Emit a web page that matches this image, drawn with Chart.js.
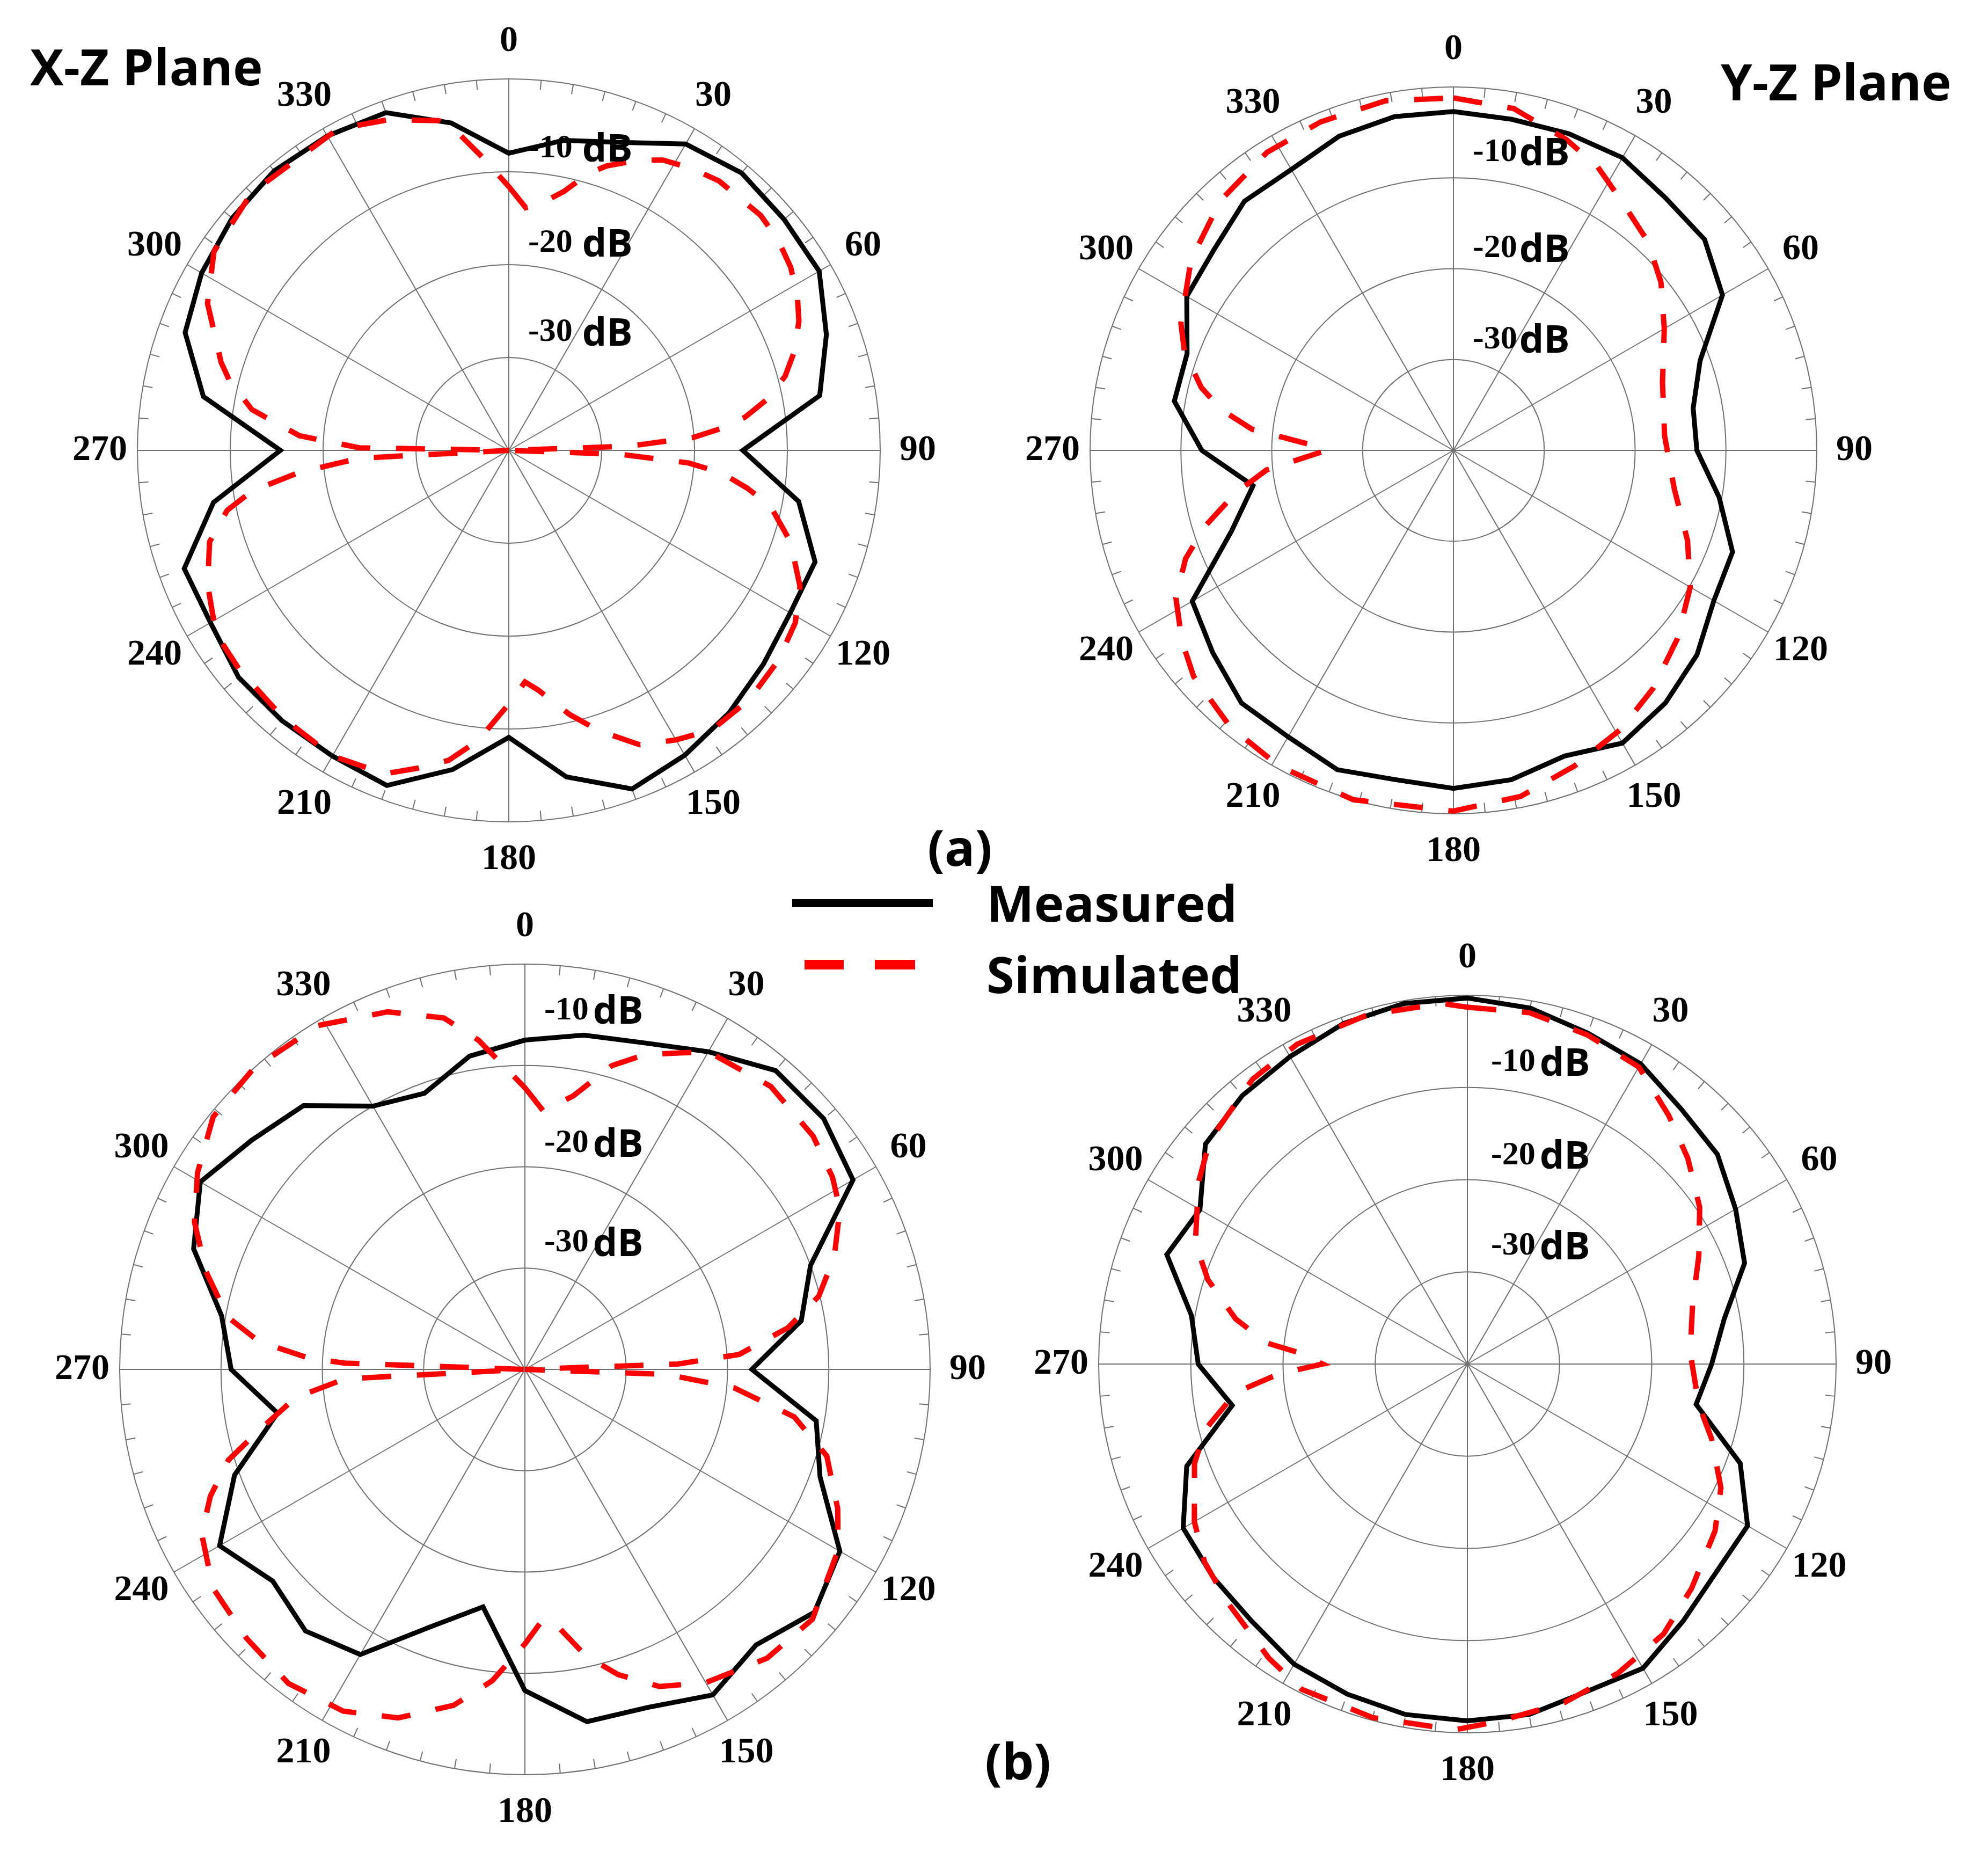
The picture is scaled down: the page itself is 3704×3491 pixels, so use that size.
<!DOCTYPE html>
<html>
<head>
<meta charset="utf-8">
<script src="https://cdn.jsdelivr.net/npm/chart.js@4.4.1/dist/chart.umd.min.js"></script>
<style>
body{margin:0;background:#fff;width:3704px;height:3491px;position:relative;overflow:hidden}
canvas{position:absolute}
.t{position:absolute;font-family:"Open Sans",sans-serif;font-weight:700;color:#000;white-space:nowrap;line-height:1;font-size:94px}
.ln{position:absolute}
</style>
</head>
<body>
<canvas id="xzA" width="1684" height="1684" style="left:106px;top:-3px"></canvas>
<canvas id="yzA" width="1654" height="1654" style="left:1881px;top:12px"></canvas>
<canvas id="xzB" width="1810" height="1810" style="left:73px;top:1646px"></canvas>
<canvas id="yzB" width="1674" height="1674" style="left:1897px;top:1704px"></canvas>

<div class="t" style="left:56px;top:76px">X-Z Plane</div>
<div class="t" style="left:3206px;top:104px">Y-Z Plane</div>
<div class="t" style="left:1728px;top:1530px">(a)</div>
<div class="t" style="left:1835px;top:3232px">(b)</div>
<div class="ln" style="left:1476px;top:1675px;width:262px;height:15px;background:#000"></div>
<div class="ln" style="left:1499px;top:1788px;width:73px;height:18px;background:#ff0000"></div>
<div class="ln" style="left:1630px;top:1788px;width:75px;height:18px;background:#ff0000"></div>
<div class="t" style="left:1838px;top:1634px">Measured</div>
<div class="t" style="left:1838px;top:1767px">Simulated</div>

<script>
// angles of the measured points (deg), shared by all four plots
const measuredAngles=[0,10,20,30,40,50,60,70,80,90,100,110,120,130,140,150,160,170,180,190,200,210,220,230,240,250,260,270,280,290,300,310,320,330,340,350]

// (a) X-Z plane
const xzA_measured=[-8.0,-6.1,-4.7,-1.9,-1.0,-1.3,-1.4,-3.6,-6.0,-14.8,-8.3,-4.9,-5.0,-4.2,-3.1,-2.1,-1.2,-4.3,-9.1,-5.1,-1.6,-2.0,-2.0,-2.0,-2.9,-2.8,-7.7,-15.4,-6.6,-2.9,-1.8,-1.1,-0.7,-0.9,-1.3,-4.2]
const xzA_simAngles=[0,4,8,12,16,19,24,28,33,38,47,52,57,62,66,71,75,79,82,84,86,88,90,92,94,96,99,102,108,115,121,128,136,144,150,156,162,167,173,176,180,186,191,196,201,210,220,231,238,246,253,258,261,264,267,270,271,274,279,284,287,296,304,315,332,340,348,350,355]
const xzA_sim=[-11.6,-13.8,-13.0,-11.5,-9.0,-7.6,-5.8,-4.6,-3.8,-3.2,-2.9,-3.2,-3.8,-4.8,-5.8,-7.5,-9.2,-11.8,-14.3,-16.8,-20.1,-27,-40,-28,-20.6,-17,-14.0,-11.2,-8.1,-5.4,-4.0,-3.2,-2.7,-2.8,-4.0,-5.3,-8.2,-10.8,-14.0,-15.0,-12.7,-8.6,-6.0,-4.4,-2.7,-2.0,-2.3,-2.6,-2.8,-4.5,-6.3,-9.0,-12.0,-17.3,-23.9,-40,-23.9,-17.4,-12.0,-9.0,-7.6,-3.9,-1.7,-0.8,-0.8,-2.1,-3.7,-4.6,-8.4]

// (a) Y-Z plane
const yzA_measured=[-2.7,-3.0,-2.9,-2.8,-3.7,-3.9,-5.8,-11.1,-13.2,-13.2,-10.3,-7.3,-6.9,-5.0,-3.7,-2.8,-4.2,-3.2,-2.8,-3.2,-2.6,-3.6,-3.7,-5.4,-6.8,-14.0,-17.6,-12.3,-8.8,-8.8,-6.1,-5.6,-4.2,-4.3,-3.2,-2.7]
const yzA_simAngles=[0,10,20,27,34,43,51,60,72,86,100,111,120,130,140,149,159,169,180,196,209,219,229,235,242,248,253,259,264,270,272,276,280,284,290,295,306,317,328,338,349]
const yzA_sim=[-1.2,-1.8,-3.6,-5.0,-6.9,-8.6,-10.6,-13.2,-15.8,-16.7,-15.3,-12.4,-9.9,-7.8,-5.8,-4.2,-2.8,-1.2,-0.3,0,-0.3,-0.9,-2.1,-3.5,-5.4,-8.2,-11.4,-15.6,-19.3,-26,-24.6,-17.7,-14.0,-11.4,-8.5,-6.9,-4.3,-2.4,-1.3,-1.0,-0.8]

// (b) X-Z plane
const xzB_measured=[-7.5,-6.5,-5.7,-3.8,-1.5,-1.5,-2.6,-10.0,-12.3,-17.6,-10.8,-9.0,-4.1,-2.7,-4.5,-2.9,-4.5,-4.7,-8.3,-16.2,-13.0,-7.5,-6.3,-7.5,-5.2,-9.5,-15.2,-11.0,-9.6,-5.2,-3.0,-4.8,-6.0,-10.0,-11.0,-8.6]
const xzB_simAngles=[0,4,10,16,21,30,41,51,58,63,70,76,81,86,88,90,92,95,100,106,114,120,131,140,150,157,163,168,173,176,180,186,192,200,208,217,226,235,243,248,253,257,263,267,270,272,273,276,280,287,294,301,309,318,329,339,347,352]
const xzB_sim=[-12.2,-14.4,-12.6,-8.8,-6.7,-3.8,-3.0,-3.4,-4.2,-5.1,-7.5,-10.1,-13.7,-18.8,-24.9,-40,-26,-19.3,-13.0,-9.0,-6.2,-4.3,-2.4,-2.8,-4.3,-6.0,-8.5,-11.1,-14.6,-15.2,-12.9,-9.1,-6.1,-3.4,-1.8,-1.2,-1.8,-2.4,-4.2,-6.5,-9.4,-13.0,-17.2,-22.2,-40,-22.2,-18.6,-13.6,-10.2,-7.1,-4.3,-2.3,-0.4,0,-0.4,-2.2,-4.4,-7.2]

// (b) Y-Z plane
const yzB_measured=[-0.3,-0.8,-1.8,-2.4,-3.9,-4.6,-6.4,-8.0,-11.7,-13.5,-14.8,-8.5,-4.9,-4.8,-3.6,-1.9,-2.2,-1.4,-1.3,-1.4,-1.9,-2.4,-3.6,-4.0,-4.4,-7.6,-14.1,-10.8,-9.6,-5.3,-6.5,-2.9,-2.0,-1.5,-0.7,-0.3]
const yzB_simAngles=[0,10,20,30,39,47,56,65,75,87,100,107,116,124,135,144,154,164,175,182,195,207,214,225,233,240,250,256,263,267,270,274,276,281,288,294,304,311,323,332,344,356]
const yzB_sim=[-1.3,-1.3,-2.0,-2.8,-5.3,-7.3,-9.6,-12.3,-14.7,-15.8,-14.5,-12.3,-9.4,-7.6,-5.6,-3.8,-2.7,-1.8,-1.1,-0.3,-0.3,-0.4,-1.5,-3.3,-4.3,-5.8,-8.5,-10.7,-14.7,-19.5,-24.3,-21.5,-18.1,-14.4,-10.4,-7.7,-4.8,-3.0,-1.3,-0.7,-0.6,-0.8]

// tick labels
const angleTicks=['0','30','60','90','120','150','180','210','240','270','300','330']
const dbTicks=['-10','-20','-30']

const gridColor='#707070'
const PAD=150

// one label per degree so points can sit at any whole angle
const degLabels=[]
for(let a=0;a<360;a++) degLabels.push(a)

function spread(angles,values){
let out=new Array(360).fill(null)
angles.forEach((a,i)=>{out[a]=values[i]})
return out
}

const polarDecor={
id:'polarDecor',
beforeDatasetsDraw(chart){
let r=chart.scales.r
let ctx=chart.ctx
ctx.save()
ctx.strokeStyle=gridColor
ctx.lineWidth=2
for(let a=5;a<360;a+=5){
if(a%30===0) continue
let p1=r.getPointPosition(a,r.drawingArea)
let p2=r.getPointPosition(a,r.drawingArea-18)
ctx.beginPath()
ctx.moveTo(p1.x,p1.y)
ctx.lineTo(p2.x,p2.y)
ctx.stroke()
}
ctx.restore()
},
afterDatasetsDraw(chart,args,opts){
let r=chart.scales.r
let ctx=chart.ctx
ctx.save()
ctx.fillStyle='#000'
ctx.textAlign='center'
ctx.textBaseline='middle'
ctx.font='bold 68px "Liberation Serif"'
angleTicks.forEach(t=>{
let p=r.getPointPosition(parseInt(t),r.drawingArea+70)
ctx.fillText(t,p.x,p.y)
})
ctx.textAlign='left'
dbTicks.forEach((t,i)=>{
let y=r.yCenter-r.getDistanceFromCenterForValue(opts.ringAt[i])
let x=r.xCenter+opts.dx
ctx.font='bold 62px "Liberation Serif"'
ctx.fillText(t,x,y)
let w=ctx.measureText(t).width
ctx.font='bold 72px "Open Sans"'
ctx.fillText('dB',x+w+opts.gap,y+4)
})
ctx.restore()
}
}

function makeChart(id,meas,simAngles,sim,decor){
return new Chart(document.getElementById(id),{
type:'radar',
data:{
labels:degLabels,
datasets:[
{
label:'Simulated',
data:spread(simAngles,sim),
borderColor:'#ff0000',
borderWidth:10,
borderDash:[54,48],
pointRadius:0,
fill:false,
spanGaps:true,
tension:0
},
{
label:'Measured',
data:spread(measuredAngles,meas),
borderColor:'#000000',
borderWidth:9,
pointRadius:0,
fill:false,
spanGaps:true,
tension:0
}
]
},
options:{
responsive:false,
animation:false,
devicePixelRatio:1,
layout:{padding:PAD},
plugins:{
legend:{display:false},
tooltip:{enabled:false},
polarDecor:decor
},
scales:{
r:{
min:-40,
max:0,
ticks:{display:false,stepSize:10},
pointLabels:{display:false},
grid:{circular:true,color:gridColor,lineWidth:2},
angleLines:{color:gridColor,lineWidth:c=>c.index%30===0?2:0}
}
}
},
plugins:[polarDecor]
})
}

makeChart('xzA',xzA_measured,xzA_simAngles,xzA_sim,{ringAt:[-7.5,-17.7,-27.3],dx:36,gap:18})
makeChart('yzA',yzA_measured,yzA_simAngles,yzA_sim,{ringAt:[-7.2,-17.8,-27.8],dx:36,gap:4})
makeChart('xzB',xzB_measured,xzB_simAngles,xzB_sim,{ringAt:[-4.6,-17.7,-27.5],dx:36,gap:8})
makeChart('yzB',yzB_measured,yzB_simAngles,yzB_sim,{ringAt:[-7.3,-17.4,-27.2],dx:44,gap:8})
</script>
</body>
</html>
